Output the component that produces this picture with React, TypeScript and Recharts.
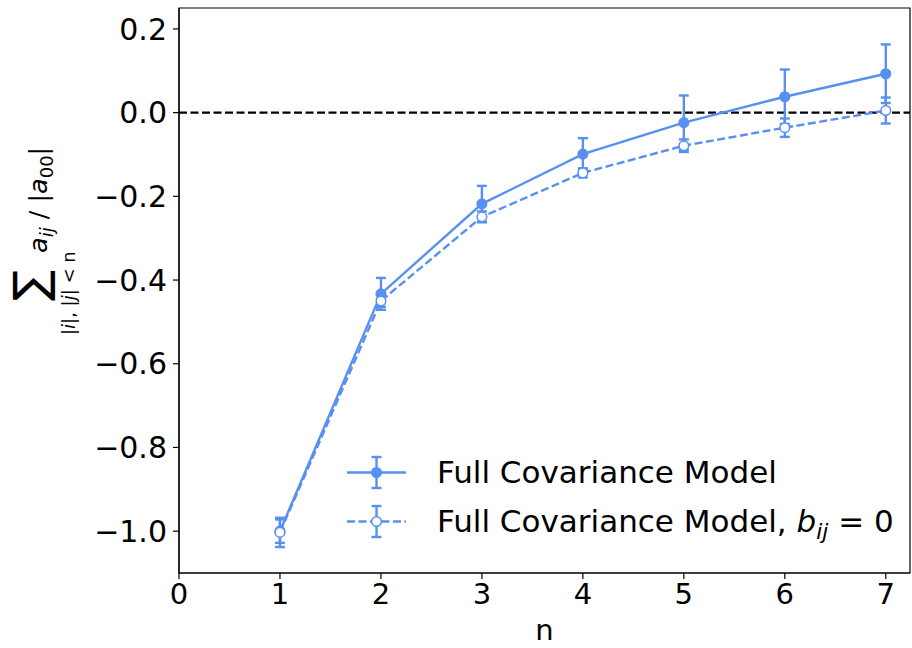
import React from "react";
import {
  ComposedChart,
  Line,
  XAxis,
  YAxis,
  ErrorBar,
  ReferenceLine,
  ReferenceArea,
  Legend,
} from "recharts";

const nValues = [1, 2, 3, 4, 5, 6, 7];
const fullModel = [-1.0, -0.433, -0.218, -0.099, -0.024, 0.038, 0.093];
const fullModelErr = [0.028, 0.038, 0.043, 0.038, 0.065, 0.065, 0.07];
const zeroBModel = [-1.003, -0.45, -0.249, -0.144, -0.079, -0.036, 0.005];
const zeroBModelErr = [0.035, 0.014, 0.013, 0.011, 0.015, 0.022, 0.031];

const xTicks = [0, 1, 2, 3, 4, 5, 6, 7];
const yTicks = [-1.0, -0.8, -0.6, -0.4, -0.2, 0.0, 0.2];

const X_MAX = 7.24;
const Y_MIN = -1.1;
const Y_MAX = 0.25;

const BLUE = "#5790f2";
const FONT = "'DejaVu Sans', sans-serif";
const LW = 2.4;

const data = nValues.map((n, i) => ({
  n,
  full: fullModel[i],
  fullErr: fullModelErr[i],
  zeroB: zeroBModel[i],
  zeroBErr: zeroBModelErr[i],
}));

const fmtY = (v: number) =>
  (v < -1e-9 ? "\u2212" : "") + Math.abs(v).toFixed(1);

const renderYLabel = () => (
  <g transform="translate(47,300) rotate(-90)" fontFamily={FONT} fill="#000">
    <text x={-1} y={-1} fontSize={46}>
      ∑
    </text>
    <text x={-35} y={28} fontSize={18} style={{ whiteSpace: "pre" }}>
      |<tspan fontStyle="italic">i</tspan>|, |<tspan fontStyle="italic">j</tspan>| {"<"} n
    </text>
    <text x={47} y={0} fontSize={25.5} style={{ whiteSpace: "pre" }}>
      <tspan fontStyle="italic">a</tspan>
      <tspan fontSize={18} dy={6} fontStyle="italic">ij</tspan>
      <tspan dy={-6}> / |</tspan>
      <tspan fontStyle="italic">a</tspan>
      <tspan fontSize={18} dy={6}>00</tspan>
      <tspan dy={-6}>|</tspan>
    </text>
  </g>
);

const LegendSample = ({ dashed }: { dashed: boolean }) => (
  <svg width={90} height={49} style={{ display: "block", flex: "none" }}>
    <line
      x1={0}
      x2={59}
      y1={24.5}
      y2={24.5}
      stroke={BLUE}
      strokeWidth={LW}
      strokeDasharray={dashed ? "8 3.5" : undefined}
    />
    <line x1={29.5} x2={29.5} y1={9} y2={40} stroke={BLUE} strokeWidth={LW} />
    <line x1={24.5} x2={34.5} y1={9} y2={9} stroke={BLUE} strokeWidth={LW} />
    <line x1={24.5} x2={34.5} y1={40} y2={40} stroke={BLUE} strokeWidth={LW} />
    <circle
      cx={29.5}
      cy={24.5}
      r={4.8}
      fill={dashed ? "#fff" : BLUE}
      stroke={BLUE}
      strokeWidth={1.5}
    />
  </svg>
);

const renderLegend = () => (
  <div style={{ fontFamily: FONT, fontSize: 31, color: "#000" }}>
    <div style={{ display: "flex", alignItems: "center", height: 49 }}>
      <LegendSample dashed={false} />
      <span style={{ whiteSpace: "pre" }}>Full Covariance Model</span>
    </div>
    <div style={{ display: "flex", alignItems: "center", height: 49 }}>
      <LegendSample dashed={true} />
      <span style={{ whiteSpace: "pre" }}>
        Full Covariance Model, <i>b</i>
        <i style={{ fontSize: "0.7em", position: "relative", top: "0.3em" }}>ij</i>
        {" = 0"}
      </span>
    </div>
  </div>
);

export default function App() {
  return (
    <div
      style={{
        position: "absolute",
        left: 0,
        top: 0,
        width: 912,
        height: 648,
        background: "#fff",
      }}
    >
      <ComposedChart
        width={912}
        height={648}
        data={data}
        margin={{ top: 8, right: 2, left: 0, bottom: 0 }}
      >
        <ReferenceArea
          x1={0}
          x2={X_MAX}
          y1={Y_MIN}
          y2={Y_MAX}
          fill="none"
          stroke="#000"
          strokeWidth={1.2}
          fillOpacity={0}
        />
        <XAxis
          dataKey="n"
          type="number"
          domain={[0, X_MAX]}
          ticks={xTicks}
          allowDataOverflow
          height={75}
          tickSize={6}
          tickMargin={4}
          stroke="#000"
          strokeWidth={1.2}
          tick={{ fill: "#000", fontSize: 29, fontFamily: FONT }}
          tickLine={{ stroke: "#000", strokeWidth: 1.2 }}
          label={{
            value: "n",
            position: "insideBottom",
            offset: 8,
            fill: "#000",
            fontSize: 29,
            fontFamily: FONT,
          }}
        />
        <YAxis
          type="number"
          domain={[Y_MIN, Y_MAX]}
          ticks={yTicks}
          allowDataOverflow
          width={179}
          tickSize={6}
          tickMargin={6}
          stroke="#000"
          strokeWidth={1.2}
          tickFormatter={fmtY}
          tick={{ fill: "#000", fontSize: 30, fontFamily: FONT }}
          tickLine={{ stroke: "#000", strokeWidth: 1.2 }}
          label={{ content: renderYLabel }}
        />
        <ReferenceLine
          y={0}
          stroke="#000"
          strokeWidth={LW}
          strokeDasharray="8 3.5"
        />
        <Line
          dataKey="full"
          stroke={BLUE}
          strokeWidth={LW}
          isAnimationActive={false}
          dot={{ r: 4.8, fill: BLUE, stroke: BLUE, strokeWidth: 1.5 }}
          activeDot={false}
        >
          <ErrorBar
            dataKey="fullErr"
            direction="y"
            width={5}
            stroke={BLUE}
            strokeWidth={LW}
            isAnimationActive={false}
          />
        </Line>
        <Line
          dataKey="zeroB"
          stroke={BLUE}
          strokeWidth={LW}
          strokeDasharray="8 3.5"
          isAnimationActive={false}
          dot={{ r: 4.8, fill: "#fff", stroke: BLUE, strokeWidth: 1.5, strokeDasharray: "" }}
          activeDot={false}
        >
          <ErrorBar
            dataKey="zeroBErr"
            direction="y"
            width={5}
            stroke={BLUE}
            strokeWidth={LW}
            isAnimationActive={false}
          />
        </Line>
        <Legend
          layout="vertical"
          align="center"
          verticalAlign="middle"
          content={renderLegend}
          wrapperStyle={{ left: 347, top: 447.5, width: 565 }}
        />
      </ComposedChart>
    </div>
  );
}
